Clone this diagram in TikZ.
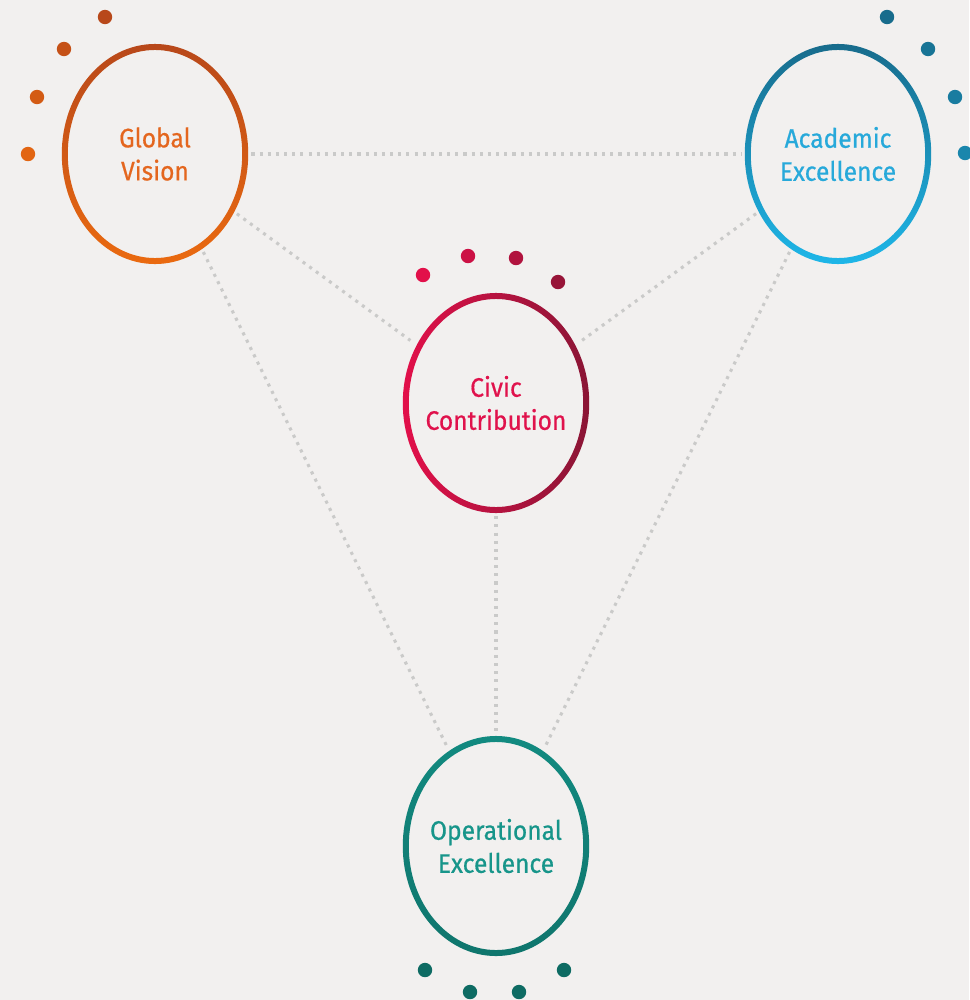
\documentclass[tikz,border=0pt]{standalone}
\usepackage{fontspec}
\setmainfont{Fira Sans}[FakeBold=0.6, FakeStretch=0.92]
\usetikzlibrary{shapes.geometric}
\definecolor{bg}{HTML}{F2F0EF}
\definecolor{linkgray}{HTML}{CACAC9}
\definecolor{gvdark}{HTML}{B8481A}
\definecolor{gvlight}{HTML}{EA6A10}
\definecolor{gvtext}{HTML}{E4661E}
\definecolor{aedark}{HTML}{186C8C}
\definecolor{aelight}{HTML}{1EB6E8}
\definecolor{aetext}{HTML}{27A9DA}
\definecolor{ccbright}{HTML}{E2104A}
\definecolor{ccdark}{HTML}{8A1535}
\definecolor{cctext}{HTML}{E0124C}
\definecolor{oering}{HTML}{128A80}
\definecolor{oedot}{HTML}{0E6B63}
\definecolor{oetext}{HTML}{17958A}
\newcommand\myring[2]{\shade[even odd rule,#2] (#1) ellipse [x radius=2.33cm, y radius=2.75cm] (#1) ellipse [x radius=2.18cm, y radius=2.60cm];}
\begin{document}
\begin{tikzpicture}[x=0.025cm,y=-0.025cm,
  hub/.style={ellipse, minimum width=4.66cm, minimum height=5.5cm, inner sep=0pt, outer sep=0.08cm, align=center, font=\fontsize{19}{23.5}\selectfont},
  link/.style={draw=linkgray, line width=2.2pt, dash pattern=on 2.2pt off 3.6pt}]
\fill[bg] (0,0) rectangle (969,1000);
\useasboundingbox (0,0) rectangle (969,1000);
% nodes
\node[hub, text=gvtext] (gv) at (155,154) {Global\\Vision};
\node[hub, text=aetext] (ae) at (838,154) {Academic\\Excellence};
\node[hub, text=cctext] (cc) at (496,403) {Civic\\Contribution};
\node[hub, text=oetext] (oe) at (496,846) {Operational\\Excellence};
% connectors
\draw[link] (gv) -- (ae);
\draw[link] (gv) -- (cc);
\draw[link] (gv) -- (oe);
\draw[link] (ae) -- (cc);
\draw[link] (ae) -- (oe);
\draw[link] (cc) -- (oe);
% rings
\myring{gv.center}{top color=gvdark, bottom color=gvlight}
\myring{ae.center}{top color=aedark, bottom color=aelight}
\myring{cc.center}{left color=ccbright, right color=ccdark}
\myring{oe.center}{top color=oering, bottom color=oering!85!black}
% dots
\fill[gvdark] (105,17) circle[radius=0.18cm];
\fill[gvdark!75!gvlight] (64,49) circle[radius=0.18cm];
\fill[gvdark!45!gvlight] (37,97) circle[radius=0.18cm];
\fill[gvdark!15!gvlight] (28,154) circle[radius=0.18cm];
\fill[aedark] (887,17) circle[radius=0.18cm];
\fill[aedark!90!aelight] (928,49) circle[radius=0.18cm];
\fill[aedark!78!aelight] (955,97) circle[radius=0.18cm];
\fill[aedark!65!aelight] (965,153) circle[radius=0.18cm];
\fill[ccbright] (423,275) circle[radius=0.18cm];
\fill[ccbright!75!ccdark] (468,256) circle[radius=0.18cm];
\fill[ccbright!45!ccdark] (516,258) circle[radius=0.18cm];
\fill[ccbright!15!ccdark] (558,282) circle[radius=0.18cm];
\fill[oedot] (425,970) circle[radius=0.18cm];
\fill[oedot] (470,992) circle[radius=0.18cm];
\fill[oedot] (519,992) circle[radius=0.18cm];
\fill[oedot] (564,970) circle[radius=0.18cm];
\end{tikzpicture}
\end{document}
